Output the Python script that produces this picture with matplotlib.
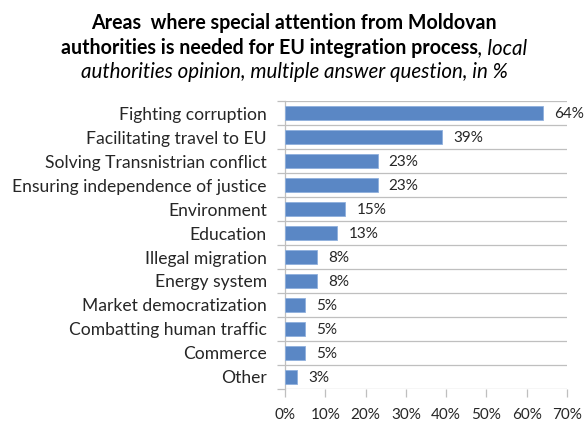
import matplotlib
matplotlib.use("Agg")
import matplotlib.pyplot as plt
from matplotlib.ticker import MultipleLocator, FuncFormatter

plt.rcParams['font.family'] = ['Lato', 'DejaVu Sans']

# survey answers, % of local authorities
areas = [
    "Fighting corruption",
    "Facilitating travel to EU",
    "Solving Transnistrian conflict",
    "Ensuring independence of justice",
    "Environment",
    "Education",
    "Illegal migration",
    "Energy system",
    "Market democratization",
    "Combatting human traffic",
    "Commerce",
    "Other",
]
shares = [64, 39, 23, 23, 15, 13, 8, 8, 5, 5, 5, 3]

bar_color = "#5a87c5"
grid_color = "#bfbfbf"
text_color = "#262626"
fs = 12.6
num_fs = 11

fig = plt.figure(figsize=(5.86, 4.23), dpi=100)
ax = fig.add_axes([0.4863, 0.0804, 0.4813, 0.6808])

pos = list(range(len(areas)))
ax.barh(pos, shares, height=0.6, color=bar_color, edgecolor="#8fb0dd", linewidth=0.6, zorder=3)
ax.set_ylim(len(areas) - 0.5, -0.5)
ax.set_xlim(0, 70)

# gridlines sit between the categories
for b in [p - 0.5 for p in pos] + [len(areas) - 0.5]:
    ax.axhline(b, color=grid_color, lw=0.9, zorder=1)

for p, v in zip(pos, shares):
    ax.annotate(f"{v}%", (v, p), xytext=(8, -1), textcoords="offset points",
                va="center", ha="left", fontsize=num_fs, color=text_color)

ax.set_yticks(pos)
ax.set_yticklabels(areas, fontsize=fs, color=text_color)
ax.tick_params(axis="y", length=0, pad=13)
ax.set_yticks([p - 0.5 for p in pos] + [len(areas) - 0.5], minor=True)
ax.tick_params(axis="y", which="minor", length=6, color=grid_color, width=0.9)

ax.xaxis.set_major_locator(MultipleLocator(10))
ax.xaxis.set_major_formatter(FuncFormatter(lambda x, _: f"{x:.0f}%"))
ax.tick_params(axis="x", length=6, color=grid_color, width=0.9, labelsize=num_fs,
               labelcolor=text_color, pad=8)

for s in ["top", "right", "bottom"]:
    ax.spines[s].set_visible(False)
ax.spines["left"].set_color(grid_color)
ax.spines["left"].set_linewidth(0.9)

# title with a bold part and an italic part
cx = 0.5017
tfs = 14.1
ifs = 14.8
fig.text(cx, 0.931, "Areas  where special attention from Moldovan", ha="center", va="baseline",
         fontsize=tfs, fontweight="bold", color="black")
fig.canvas.draw()
r = fig.canvas.get_renderer()
p1 = fig.text(0, 0.872, "authorities is needed for EU integration process", ha="left", va="baseline",
              fontsize=tfs, fontweight="bold", color="black")
p2 = fig.text(0, 0.872, ", local", ha="left", va="baseline",
              fontsize=ifs, fontstyle="italic", color="black")
w1 = p1.get_window_extent(r).width / fig.bbox.width
w2 = p2.get_window_extent(r).width / fig.bbox.width
x0 = cx - (w1 + w2) / 2
p1.set_x(x0)
p2.set_x(x0 + w1)
fig.text(cx, 0.816, "authorities opinion, multiple answer question, in %", ha="center", va="baseline",
         fontsize=ifs, fontstyle="italic", color="black")

fig.savefig("out.png", dpi=100)
